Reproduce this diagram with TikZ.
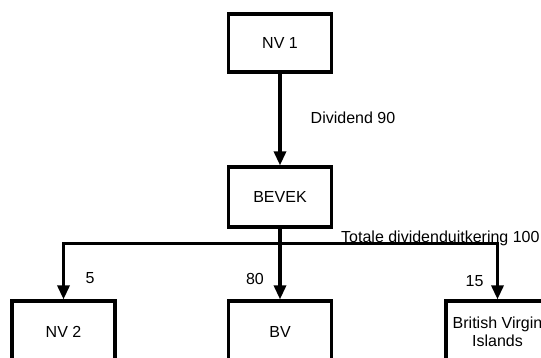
\documentclass[tikz,border=0pt]{standalone}
\usepackage{fontspec}
\setmainfont{Liberation Sans}
\usetikzlibrary{arrows.meta}
\begin{document}
\begin{tikzpicture}[x=1pt,y=-1pt,
  every node/.style={font=\fontsize{16}{17.5}\selectfont, inner sep=0pt},
  entity/.style={draw, line width=3.2pt, rectangle, minimum width=103pt, minimum height=60pt, align=center},
  flow/.style={line width=3.2pt, -{Triangle[width=12pt,length=14pt]}},
  link/.style={line width=3.2pt}
]
\useasboundingbox (0,0) rectangle (541,358);
\clip (0,0) rectangle (541,358);

% entities
\node[entity, minimum height=58pt] (nv1) at (280,43) {NV 1};
\node[entity] (bevek) at (280,197) {BEVEK};
\node[entity, minimum height=62pt] (nv2) at (63.5,332) {NV 2};
\node[entity, minimum height=62pt] (bv) at (280,332) {BV};
\node[entity, minimum height=62pt] (bvi) at (497.5,332) {British Virgin\\Islands};

% dividend flows
\draw[flow] (nv1) -- (bevek);
\coordinate (split) at (280,243.5);
\draw[flow] (bevek) -- (bv);
\draw[flow] (split) -| (nv2.north);
\draw[flow] (split) -| (bvi.north);

% amounts
\node[anchor=base west] (div) at (310.5,123.3) {Dividend 90};
\node[anchor=base west] (tot) at (341,243) {Totale dividenduitkering 100};
\node (a5) at (90,278.5) {5};
\node (a80) at (255,278.5) {80};
\node (a15) at (474.5,281.5) {15};
\end{tikzpicture}
\end{document}
